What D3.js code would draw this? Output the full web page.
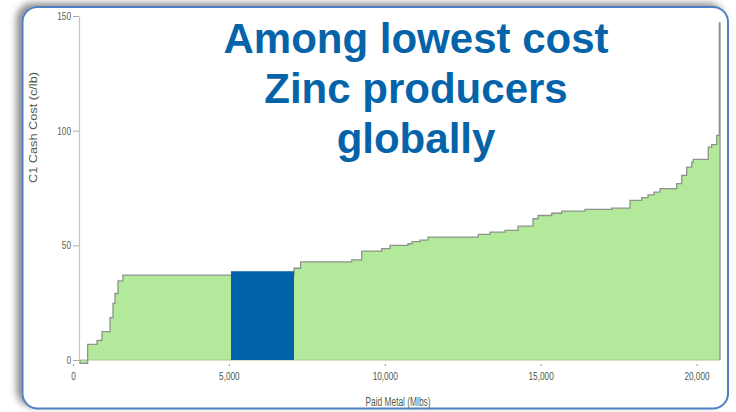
<!DOCTYPE html>
<html>
<head>
<meta charset="utf-8">
<script src="https://cdn.jsdelivr.net/npm/d3@7"></script>
<style>
  html, body { margin: 0; padding: 0; background: #ffffff; }
  svg { display: block; }
</style>
</head>
<body>
<svg id="chart" width="736" height="412"></svg>
<script>
// ---- Data ----
const titleLines = ["Among lowest cost", "Zinc producers", "globally"];
const xTicks = [0, 5000, 10000, 15000, 20000];
const yTicks = [0, 50, 100, 150];
const xTitle = "Paid Metal (Mlbs)";
const yTitle = "C1 Cash Cost (c/lb)";

// cost curve: cumulative paid metal at the start, end of each producer, cost per producer
const curveStart = 225;
const paidMetalEnd = [470, 770, 930, 1187, 1283, 1347, 1443, 1600, 5068, 7089, 7300, 8940, 9261, 9902,
  10168, 10746, 10874, 11131, 11387, 13001, 13376, 13857, 14274, 14755, 14916, 15355, 15676, 16423,
  17280, 17867, 18242, 18444, 18637, 18829, 19365, 19525, 19685, 19846, 19897, 20378, 20487, 20648,
  20731, 20754];
const cashCost = [-1.5, 6.8, 8.5, 12.4, 18.5, 24.7, 29, 34.5, 37, 37, 40, 42.8, 43.7, 47.5,
  48.6, 50, 50.7, 51.6, 52.3, 53.6, 54.8, 55.8, 56.5, 58.4, 61.6, 63, 64, 64.9,
  65.7, 66.2, 69.6, 70.8, 72, 73.2, 74.7, 76.9, 80.5, 84.1, 86.3, 87.5, 92.8, 93.9,
  97.9, 147];

// highlighted producer
const highlightStart = [5068];
const highlightEnd = [7089];
const highlightCost = [38.7];

// ---- Drawing ----
const svg = d3.select("#chart");
const defs = svg.append("defs");
const f = defs.append("filter").attr("id", "shadow")
  .attr("x", "-10%").attr("y", "-10%").attr("width", "120%").attr("height", "120%");
f.append("feDropShadow").attr("dx", -5).attr("dy", -3).attr("stdDeviation", 3.5)
  .attr("flood-color", "#000").attr("flood-opacity", 0.45);
const soft = defs.append("filter").attr("id", "soft");
soft.append("feGaussianBlur").attr("stdDeviation", 0.45);

// frame
svg.append("rect")
  .attr("x", 22.5).attr("y", 7).attr("width", 705.5).attr("height", 401.5)
  .attr("rx", 15).attr("ry", 15)
  .attr("fill", "#ffffff").attr("stroke", "#4f7fc2").attr("stroke-width", 2)
  .attr("filter", "url(#shadow)");

const x = d3.scaleLinear().domain([0, 20000]).range([73, 696.5]);
const y = d3.scaleLinear().domain([0, 150]).range([360, 16]);

// build step points
const pts = [];
let s = curveStart;
paidMetalEnd.forEach((e, i) => {
  pts.push([s, cashCost[i]]);
  pts.push([e, cashCost[i]]);
  s = e;
});

const g = svg.append("g").attr("filter", "url(#soft)");

const area = d3.area().x(d => x(d[0])).y0(y(0)).y1(d => y(d[1]));
g.append("path").datum(pts).attr("d", area).attr("fill", "#b3e99b");

// baseline edge
g.append("line")
  .attr("x1", x(curveStart)).attr("x2", x(paidMetalEnd[paidMetalEnd.length - 1]))
  .attr("y1", y(0)).attr("y2", y(0))
  .attr("stroke", "#a3c496").attr("stroke-width", 1.2);

// top outline
const linePts = [[curveStart, 0]].concat(pts).concat([[paidMetalEnd[paidMetalEnd.length - 1], 0]]);
g.append("path").datum(linePts)
  .attr("d", d3.line().x(d => x(d[0])).y(d => y(d[1])))
  .attr("fill", "none").attr("stroke", "#8e948b").attr("stroke-width", 1.3);

// highlighted bar
g.selectAll("rect.hl").data(highlightCost).enter().append("rect")
  .attr("class", "hl")
  .attr("x", (d, i) => x(highlightStart[i]))
  .attr("width", (d, i) => x(highlightEnd[i]) - x(highlightStart[i]))
  .attr("y", d => y(d))
  .attr("height", d => y(0) - y(d))
  .attr("fill", "#0062a9");

// axes
const labelColor = "#55624f";
const yAxis = svg.append("g").attr("transform", "translate(79,0)")
  .call(d3.axisLeft(y).tickValues(yTicks).tickSize(6).tickSizeOuter(0).tickPadding(2));
yAxis.select(".domain").attr("stroke", "#c4c4c4").attr("stroke-width", 1.2);
yAxis.selectAll(".tick line").attr("stroke", "#a9a9a9");
yAxis.selectAll("text").attr("fill", labelColor)
  .style("font-family", "'Liberation Sans', Arial, sans-serif").style("font-size", "11px");

const xAxis = svg.append("g").attr("transform", "translate(0,364)")
  .call(d3.axisBottom(x).tickValues(xTicks).tickSize(2).tickSizeOuter(0).tickPadding(6)
    .tickFormat(d3.format(",")));
xAxis.select(".domain").remove();
xAxis.selectAll(".tick line").attr("stroke", "#999");
xAxis.selectAll("text").attr("fill", "#4d5a48")
  .style("font-family", "'Liberation Sans', Arial, sans-serif").style("font-size", "11px");

svg.selectAll(".tick text").each(function () {
  const w = this.getComputedTextLength();
  d3.select(this).attr("textLength", w * 0.75).attr("lengthAdjust", "spacingAndGlyphs");
});

// axis titles
svg.append("text")
  .attr("x", 398).attr("y", 406)
  .attr("text-anchor", "middle")
  .attr("textLength", 65).attr("lengthAdjust", "spacingAndGlyphs")
  .style("font-family", "'Liberation Sans', Arial, sans-serif").style("font-size", "12px")
  .attr("fill", "#4f5d4a")
  .text(xTitle);

svg.append("text")
  .attr("transform", "translate(36.5,127.5) rotate(-90)")
  .attr("text-anchor", "middle")
  .attr("textLength", 111).attr("lengthAdjust", "spacingAndGlyphs")
  .style("font-family", "'Liberation Sans', Arial, sans-serif").style("font-size", "11px")
  .attr("fill", "#4f5d4a")
  .text(yTitle);

// title
svg.append("g").selectAll("text").data(titleLines).enter().append("text")
  .attr("x", 416)
  .attr("y", (d, i) => 53 + i * 50)
  .attr("text-anchor", "middle")
  .style("font-family", "'Liberation Sans', Arial, sans-serif")
  .style("font-weight", "bold").style("font-size", "42px")
  .attr("fill", "#0563a9")
  .text(d => d);
</script>
</body>
</html>
